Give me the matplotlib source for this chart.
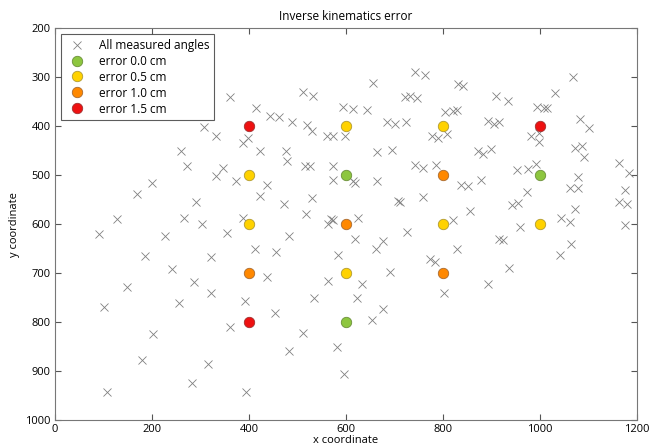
#Inverse kinematics error plot
import matplotlib.pyplot as plt
import numpy as np

#All measured angles (x, y positions)
meas_x = [742, 763, 656, 722, 732, 746, 831, 841, 909, 934, 994, 1008, 1014, 1031, 1068, 1082, 1101,
          594, 614, 643, 685, 701, 724, 777, 790, 808, 804, 821, 829, 893, 905, 915, 981, 998, 998,
          1072, 1087, 1091, 664, 695, 872, 882, 899, 742, 759, 786, 953, 975, 992, 614, 619, 664,
          837, 852, 878, 1078, 1062, 1078, 1163, 1184, 711, 707, 759, 856, 942, 955, 973, 1072, 1163,
          1179, 1175, 625, 821, 1043, 1062, 959, 1175,
          619, 676, 662, 726, 773, 784, 691, 633, 623, 676, 653, 829, 802, 893, 936, 915, 924, 1041,
          1064, 596,
          91, 227, 186, 241, 148, 101, 287, 322, 322, 256, 202, 179, 107, 355, 412, 437, 392, 361,
          454, 315, 283, 394, 456, 482, 511, 482, 534, 563, 583, 581, 573,
          361, 414, 307, 332, 388, 398, 423, 260, 272, 332, 347, 373, 437, 423, 200, 169, 291, 128,
          266, 303, 388, 443, 462, 489, 519, 530, 511, 532, 476, 478, 515, 526, 573, 573, 561, 573,
          598, 472, 517, 530, 569, 563]
meas_y = [290, 296, 312, 341, 339, 343, 314, 318, 339, 349, 361, 363, 363, 333, 300, 386, 404,
          361, 365, 367, 392, 396, 392, 420, 424, 416, 371, 369, 367, 390, 396, 392, 420, 414, 433,
          445, 441, 463, 453, 449, 451, 457, 447, 480, 486, 480, 490, 488, 478, 512, 516, 512,
          520, 522, 510, 504, 527, 527, 476, 496, 555, 553, 545, 573, 561, 557, 535, 569, 555,
          559, 531, 588, 592, 588, 596, 606, 602,
          631, 635, 651, 616, 671, 677, 698, 722, 751, 773, 796, 651, 741, 722, 690, 631, 633, 663,
          641, 906,
          620, 624, 665, 692, 728, 769, 718, 667, 741, 761, 825, 877, 943, 619, 651, 708, 757, 810,
          782, 886, 925, 943, 657, 624, 822, 859, 751, 716, 663, 851, 592,
          341, 363, 402, 420, 435, 424, 451, 451, 482, 502, 486, 512, 520, 543, 516, 539, 555, 590,
          588, 600, 588, 380, 381, 392, 398, 410, 331, 339, 451, 471, 482, 482, 482, 510, 420, 420,
          420, 559, 580, 547, 590, 600]

#Test points for each error level
err00_x = [600, 1000, 600]
err00_y = [500, 500, 800]
err05_x = [600, 800, 400, 400, 800, 1000, 600]
err05_y = [400, 400, 500, 600, 600, 600, 700]
err10_x = [800, 600, 400, 800]
err10_y = [500, 600, 700, 700]
err15_x = [400, 1000, 400]
err15_y = [400, 400, 800]

plt.rcParams['font.family'] = ['Open Sans', 'DejaVu Sans']
plt.rcParams['font.size'] = 8

fig = plt.figure(figsize=(6.61, 4.46), dpi=100)
ax = fig.add_axes([0.083, 0.058, 0.881, 0.879])

ax.plot(meas_x, meas_y, 'x', color='#808080', markersize=5.5, markeredgewidth=0.6,
        label='All measured angles')
ax.plot(err00_x, err00_y, 'o', color='#8dc63f', markeredgecolor='#6b8f3a', markersize=7.5,
        markeredgewidth=0.6, label='error 0.0 cm')
ax.plot(err05_x, err05_y, 'o', color='#ffd200', markeredgecolor='#b09a30', markersize=7.5,
        markeredgewidth=0.6, label='error 0.5 cm')
ax.plot(err10_x, err10_y, 'o', color='#ff8800', markeredgecolor='#a86a30', markersize=7.5,
        markeredgewidth=0.6, label='error 1.0 cm')
ax.plot(err15_x, err15_y, 'o', color='#ee1111', markeredgecolor='#a03030', markersize=7.5,
        markeredgewidth=0.6, label='error 1.5 cm')

ax.set_xlim(0, 1200)
ax.set_ylim(1000, 200)
ax.set_xticks(np.arange(0, 1201, 200))
ax.set_yticks(np.arange(200, 1001, 100))
ax.tick_params(direction='in', top=True, right=True, length=4, color='#555555', labelsize=8, pad=3)
for s in ax.spines.values():
    s.set_color('#777777')

ax.set_title('Inverse kinematics error', fontsize=8.5)
ax.set_xlabel('x coordinate', fontsize=8, labelpad=0)
ax.set_ylabel('y coordinate', fontsize=8)

leg = ax.legend(loc='upper left', fancybox=False, edgecolor='#333333', fontsize=8.5,
                borderaxespad=0.5, handletextpad=0.8, labelspacing=0.25, numpoints=1)
leg.get_frame().set_linewidth(0.8)

plt.savefig('out.png', dpi=100)
